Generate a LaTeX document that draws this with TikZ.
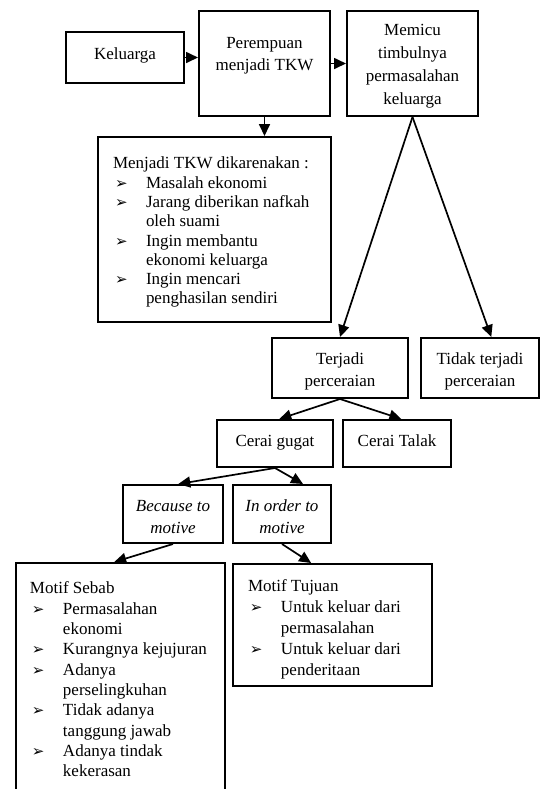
\documentclass[tikz,border=0pt]{standalone}
\usepackage{fontspec}
\setmainfont{Liberation Serif}
\newfontfamily\simbol{DejaVu Sans}
\usetikzlibrary{positioning, arrows.meta}
\tikzset{
	x=0.5pt, y=-0.5pt, % one unit is one pixel of the scan
	kotak/.style={draw, line width=1pt, inner sep=0pt, font=\fontsize{8.5}{11}\selectfont}, % every box
	daftar/.style={kotak, inner xsep=7.5pt}, % the boxes that hold a list
	panah/.style={-{Triangle[length=6pt,width=5.5pt]}, line width=0.85pt}, % the arrows
}
% width, height, space above the first line, text
\newcommand{\isi}[4]{\parbox[c][#2][t]{#1}{\centering\vspace*{#3}#4}}
\newcommand{\isikiri}[4]{\parbox[c][#2][t]{#1}{\raggedright\vspace*{#3}#4}}
\newcommand{\butir}{\makebox[16.5pt][l]{\hspace{1pt}{\simbol\fontsize{7.5}{8}\selectfont ➢}}}
\newcommand{\lanjut}{\hspace*{16.5pt}}

\begin{document}
\begin{tikzpicture}
	\useasboundingbox (0,0) rectangle (543,789);
	% the top row
	\node[kotak] (per) at (264.5,63.5) {\isi{65.5pt}{52.5pt}{13pt}{Perempuan\\ menjadi TKW}};
	\node[kotak] (kel) at (125,57.5) {\isi{59pt}{25.5pt}{8pt}{Keluarga}};
	\node[kotak, right=7.5pt of per, font=\fontsize{8.5}{11.5}\selectfont] (mem) {\isi{65.5pt}{52.5pt}{6.5pt}{Memicu\\ timbulnya\\ permasalahan\\ keluarga}};
	\draw[panah] (kel.east) -- (kel.east -| per.west);
	\draw[panah] (per.east) -- (per.east -| mem.west);
	%% why they go
	\node[daftar, font=\fontsize{8.5}{9.65}\selectfont] (sebabtkw) at (214.5,229.5) {\isikiri{101.5pt}{92.5pt}{10pt}{Menjadi TKW dikarenakan :\\
		\butir Masalah ekonomi\\
		\butir Jarang diberikan nafkah\\
		\lanjut oleh suami\\
		\butir Ingin membantu\\
		\lanjut ekonomi keluarga\\
		\butir Ingin mencari\\
		\lanjut penghasilan sendiri}};
	\draw[panah] (per.south) -- (per.south |- sebabtkw.north);
	%% divorce or not
	\node[kotak] (ter) at (340,368) {\isi{68pt}{30pt}{7.5pt}{Terjadi\\ perceraian}};
	\node[kotak, right=5.5pt of ter] (tdk) {\isi{59pt}{30pt}{7.5pt}{Tidak terjadi\\ perceraian}};
	\draw[panah] (mem.south) -- (ter.north);
	\draw[panah] (mem.south) -- (tdk.70);
	\node[kotak] (gug) at (275,443.5) {\isi{58pt}{23.5pt}{7.5pt}{Cerai gugat}};
	\node[kotak, right=4pt of gug] (tal) {\isi{54pt}{23.5pt}{7.5pt}{Cerai Talak}};
	\draw[panah] (ter.south) -- (gug.80);
	\draw[panah] (ter.south) -- (tal.80);
	%% the two motives
	\node[kotak, font=\fontsize{8.5}{11}\selectfont\itshape] (bec) at (173,514) {\isi{50pt}{29pt}{7.5pt}{Because to\\ motive}};
	\node[kotak, right=4pt of bec, font=\fontsize{8.5}{11}\selectfont\itshape] (ino) {\isi{49pt}{29pt}{7.5pt}{In order to\\ motive}};
	\draw[panah] (gug.south) -- (bec.80);
	\draw[panah] (gug.south) -- (ino.55);
	\node[daftar, inner xsep=7pt, font=\fontsize{8.5}{10.15}\selectfont] (seb) at (120.5,681.5) {\isikiri{90.5pt}{118.5pt}{9.5pt}{Motif Sebab\\
		\butir Permasalahan\\
		\lanjut ekonomi\\
		\butir Kurangnya kejujuran\\
		\butir Adanya\\
		\lanjut perselingkuhan\\
		\butir Tidak adanya\\
		\lanjut tanggung jawab\\
		\butir Adanya tindak\\
		\lanjut kekerasan}};
	\node[daftar, font=\fontsize{8.5}{10.4}\selectfont] (tuj) at (332.5,625) {\isikiri{84.5pt}{61pt}{8pt}{Motif Tujuan\\
		\butir Untuk keluar dari\\
		\lanjut permasalahan\\
		\butir Untuk keluar dari\\
		\lanjut penderitaan}};
	\draw[panah] (bec.south) -- (seb.93);
	\draw[panah] (ino.south) -- (tuj.109);
\end{tikzpicture}
\end{document}
